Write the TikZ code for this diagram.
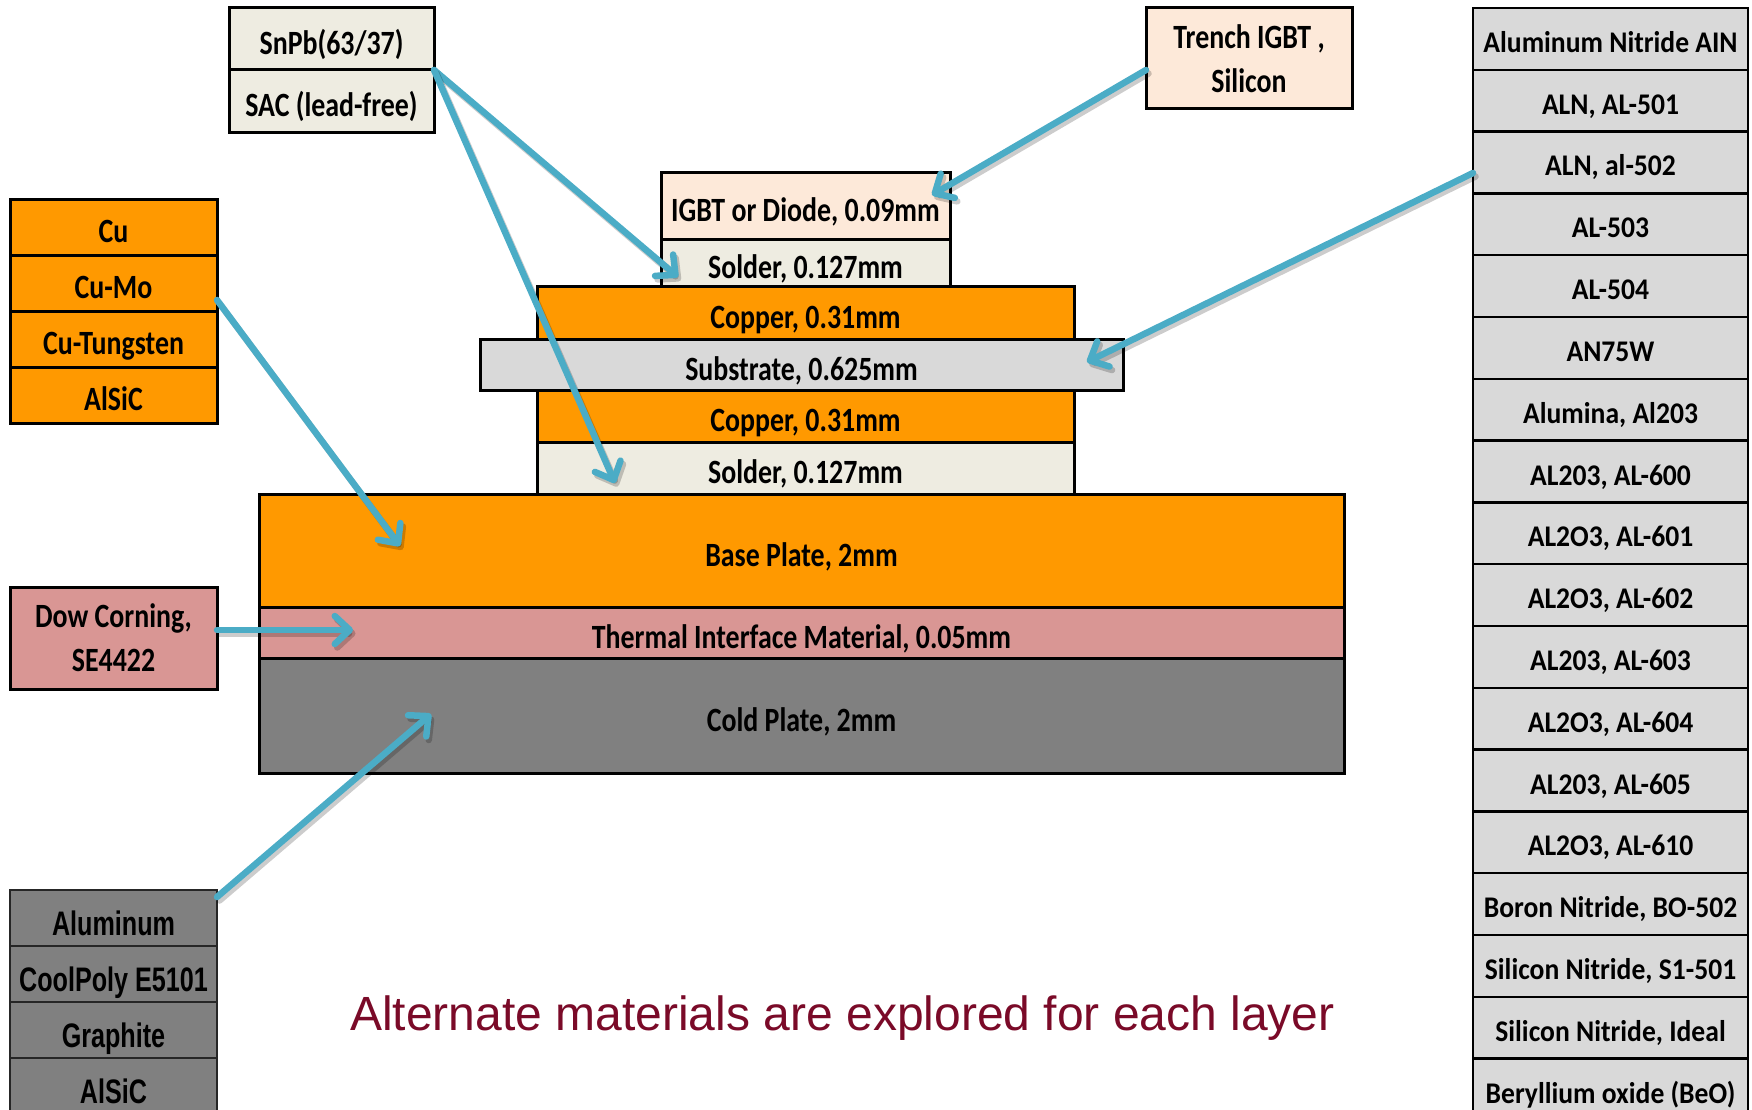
\documentclass[tikz,border=0pt]{standalone}
\usepackage{fontspec}
\setmainfont{Carlito}
\newfontfamily\condfont[FakeStretch=0.82]{Carlito}
\newfontfamily\listfont[FakeStretch=0.92]{Carlito}
\newfontfamily\narrowfont[FakeStretch=0.74]{Liberation Sans}
\newfontfamily\captionfont{Liberation Sans}
\usetikzlibrary{arrows.meta}

\definecolor{copperfill}{HTML}{FF9900}
\definecolor{chipfill}{HTML}{FDE9D9}
\definecolor{solderfill}{HTML}{EEECE1}
\definecolor{ceramicfill}{HTML}{D9D9D9}
\definecolor{timfill}{HTML}{D99694}
\definecolor{coldfill}{HTML}{808080}
\definecolor{arrowblue}{HTML}{4BACC6}
\definecolor{capred}{HTML}{7A0A28}

\tikzset{
  tile/.style={draw=black, line width=3pt, inner sep=0pt, outer sep=0pt},
  lay/.style={tile, font=\condfont\bfseries\fontsize{34}{44}\selectfont,
    text height=33pt, text depth=2pt},
  twoline/.style={tile, align=center, font=\condfont\bfseries\fontsize{34}{44}\selectfont},
  listrow/.style={tile, line width=2.5pt, fill=ceramicfill,
    minimum width=275pt, minimum height=61.8pt,
    font=\listfont\bfseries\fontsize{30}{36}\selectfont,
    text height=30pt, text depth=3pt},
  coldrow/.style={tile, line width=2pt, draw=black!85, fill=coldfill,
    minimum width=207pt, minimum height=56pt,
    font=\narrowfont\bfseries\fontsize{34}{40}\selectfont,
    text height=36pt, text depth=1pt},
  baserow/.style={lay, fill=copperfill, minimum width=207pt, minimum height=56pt},
  pointer/.style={draw=arrowblue, line width=6.5pt, line cap=round,
    -{Straight Barb[round, length=15pt, width=28pt]}},
  pointer shadow/.style={pointer, draw=black, draw opacity=0.2,
    transform canvas={shift={(2.5pt,-3.5pt)}}}
}

\newcommand{\matarrow}[2]{%
  \draw[pointer shadow] (#1) -- (#2);
  \draw[pointer] (#1) -- (#2);}

\begin{document}
\begin{tikzpicture}[x=1pt, y=-1pt]
\useasboundingbox (0,0) rectangle (1752,1110);
\clip (0,0) rectangle (1752,1110);
\fill[white] (0,0) rectangle (1752,1110);

% --- layer stack, top to bottom ---
\node[lay, fill=chipfill,    minimum width=289pt,  minimum height=66pt]  (igbt)    at (805.5,206)   {IGBT or Diode, 0.09mm};
\node[lay, fill=solderfill,  minimum width=289pt,  minimum height=47pt]  (solderA) at (805.5,262.5) {Solder, 0.127mm};
\node[lay, fill=copperfill,  minimum width=537pt,  minimum height=53pt]  (copperA) at (805.5,312.5) {Copper, 0.31mm};
\node[lay, fill=ceramicfill, minimum width=643pt,  minimum height=51pt]  (subst)   at (801.5,364.5) {Substrate, 0.625mm};
\node[lay, fill=copperfill,  minimum width=537pt,  minimum height=52pt]  (copperB) at (805.5,416)   {Copper, 0.31mm};
\node[lay, fill=solderfill,  minimum width=537pt,  minimum height=52pt]  (solderB) at (805.5,468)   {Solder, 0.127mm};
\node[lay, fill=copperfill,  minimum width=1085pt, minimum height=113pt] (base)    at (801.5,550.5) {Base Plate, 2mm};
\node[lay, fill=timfill,     minimum width=1085pt, minimum height=51pt]  (tim)     at (801.5,632.5) {Thermal Interface Material, 0.05mm};
\node[lay, fill=coldfill,    minimum width=1085pt, minimum height=115pt] (cold)    at (801.5,715.5) {Cold Plate, 2mm};

% --- solder alternatives ---
\node[lay, fill=solderfill, minimum width=205pt, minimum height=62pt] (snpb) at (331.5,39)    {SnPb(63/37)};
\node[lay, fill=solderfill, minimum width=205pt, minimum height=63pt] (sac)  at (331.5,101.5) {SAC (lead-free)};

% --- die alternative ---
\node[twoline, fill=chipfill, minimum width=206pt, minimum height=101pt] (trench) at (1249,58.5) {Trench IGBT ,\\Silicon};

% --- base plate alternatives ---
\node[baserow] (cu)    at (113.5,227) {Cu};
\node[baserow] (cumo)  at (113.5,283) {Cu-Mo};
\node[baserow] (cuw)   at (113.5,339) {Cu-Tungsten};
\node[baserow] (alsic) at (113.5,395) {AlSiC};

% --- interface material alternative ---
\node[twoline, fill=timfill, minimum width=207pt, minimum height=102pt] (dow) at (113.5,638) {Dow Corning,\\SE4422};

% --- cold plate alternatives ---
\node[coldrow] (alum)     at (113.5,918)  {Aluminum};
\node[coldrow] (coolpoly) at (113.5,974)  {CoolPoly E5101};
\node[coldrow] (graphite) at (113.5,1030) {Graphite};
\node[coldrow] (alsicb)   at (113.5,1086) {AlSiC};

% --- substrate alternatives ---
\foreach \mat [count=\i] in {{Aluminum Nitride AIN},{ALN, AL-501},{ALN, al-502},{AL-503},{AL-504},{AN75W},{Alumina, Al203},{AL203, AL-600},{AL2O3, AL-601},{AL2O3, AL-602},{AL203, AL-603},{AL2O3, AL-604},{AL203, AL-605},{AL2O3, AL-610},{Boron Nitride, BO-502},{Silicon Nitride, S1-501},{Silicon Nitride, Ideal},{Beryllium oxide (BeO)}}
  \node[listrow] (r\i) at (1610.5,{38.9+61.8*(\i-1)}) {\mat};

% --- caption ---
\node[anchor=base west, inner sep=0pt, text=capred,
      font=\captionfont\fontsize{48}{56}\selectfont] (caption) at (350,1030)
      {Alternate materials are explored for each layer};

% --- arrow targets inside the layers ---
\coordinate (tipSolderA) at (678,277);
\coordinate (tipSolderB) at (615,483);
\coordinate (tipChip)    at (932,195);
\coordinate (tipSubst)   at (1087,362);
\coordinate (tipBase)    at (400,546);
\coordinate (tipTim)     at (353,630);
\coordinate (tipCold)    at (431,714);

% --- arrows ---
\matarrow{snpb.south east}{tipSolderA}
\matarrow{snpb.south east}{tipSolderB}
\matarrow{[yshift=-11.5pt]trench.west}{tipChip}
\matarrow{[yshift=-10.5pt]r3.west}{tipSubst}
\matarrow{[yshift=-17pt]cumo.east}{tipBase}
\matarrow{[yshift=8pt]dow.east}{tipTim}
\matarrow{[yshift=-7pt]alum.north east}{tipCold}
\end{tikzpicture}
\end{document}
